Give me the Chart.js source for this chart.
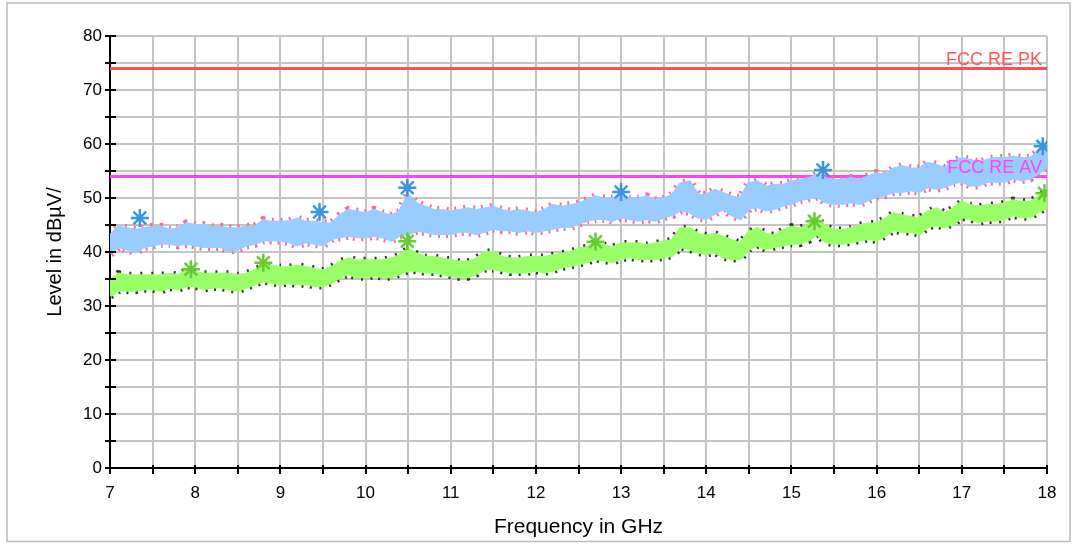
<!DOCTYPE html>
<html>
<head>
<meta charset="utf-8">
<script src="https://cdn.jsdelivr.net/npm/chart.js@4.4.1/dist/chart.umd.min.js"></script>
<style>
  html, body { margin: 0; padding: 0; background: #fff; }
  canvas { display: block; }
</style>
</head>
<body>
<canvas id="emiChart" width="1075" height="545"></canvas>
<script>
// frequency grid (GHz) the traces were read on
const freq = [
  7.0, 7.1, 7.2, 7.3, 7.4, 7.5, 7.6, 7.7, 7.8, 7.9,
  8.0, 8.1, 8.2, 8.3, 8.4, 8.5, 8.6, 8.7, 8.8, 8.9,
  9.0, 9.1, 9.2, 9.3, 9.4, 9.5, 9.6, 9.7, 9.8, 9.9,
  10.0, 10.1, 10.2, 10.3, 10.4, 10.5, 10.6, 10.7, 10.8, 10.9,
  11.0, 11.1, 11.2, 11.3, 11.4, 11.5, 11.6, 11.7, 11.8, 11.9,
  12.0, 12.1, 12.2, 12.3, 12.4, 12.5, 12.6, 12.7, 12.8, 12.9,
  13.0, 13.1, 13.2, 13.3, 13.4, 13.5, 13.6, 13.7, 13.8, 13.9,
  14.0, 14.1, 14.2, 14.3, 14.4, 14.5, 14.6, 14.7, 14.8, 14.9,
  15.0, 15.1, 15.2, 15.3, 15.4, 15.5, 15.6, 15.7, 15.8, 15.9,
  16.0, 16.1, 16.2, 16.3, 16.4, 16.5, 16.6, 16.7, 16.8, 16.9,
  17.0, 17.1, 17.2, 17.3, 17.4, 17.5, 17.6, 17.7, 17.8, 17.9,
  18.0
];

// peak trace, upper / lower edge of the noise band (dBuV)
const peakHigh = [
  42.9, 44.5, 44.2, 43.9, 44.2, 44.5, 44.5, 43.9, 44.2, 45.1,
  44.8, 44.8, 44.5, 44.5, 44.2, 44.2, 44.5, 44.5, 45.7, 45.4,
  45.4, 45.5, 46.0, 45.4, 45.4, 45.1, 45.1, 46.6, 47.6, 47.3,
  47.0, 47.6, 47.0, 46.6, 47.3, 50.4, 48.8, 48.2, 47.6, 47.6,
  47.3, 47.6, 47.9, 47.6, 47.9, 48.2, 47.6, 47.3, 47.6, 47.3,
  47.0, 47.6, 48.5, 48.2, 48.5, 48.8, 49.4, 50.1, 49.7, 49.7,
  50.1, 49.7, 49.7, 50.1, 49.4, 49.7, 50.4, 52.5, 52.9, 50.4,
  50.4, 51.3, 50.7, 50.1, 49.8, 52.5, 52.9, 51.9, 52.2, 52.2,
  52.9, 53.2, 53.5, 54.1, 53.5, 53.2, 53.2, 53.5, 53.2, 53.8,
  54.4, 54.1, 55.3, 55.7, 55.3, 55.3, 56.3, 56.0, 55.3, 56.6,
  57.2, 56.9, 56.3, 56.9, 57.2, 57.2, 57.5, 57.2, 57.2, 58.4,
  59.1
];
const peakLow = [
  39.8, 41.1, 40.7, 40.1, 41.1, 41.4, 41.7, 41.7, 41.4, 41.7,
  41.4, 41.1, 41.1, 41.1, 40.4, 40.7, 41.4, 41.7, 42.3, 42.3,
  42.3, 42.0, 41.4, 42.0, 41.7, 41.4, 42.6, 42.9, 43.2, 42.9,
  42.9, 43.2, 42.9, 42.3, 43.2, 43.5, 44.1, 43.9, 43.5, 43.5,
  43.5, 43.9, 43.9, 43.5, 43.9, 44.5, 44.2, 44.2, 43.9, 44.2,
  43.9, 44.2, 44.5, 44.8, 44.8, 45.4, 46.0, 46.3, 46.3, 46.0,
  46.6, 46.3, 46.0, 46.3, 46.0, 46.6, 47.0, 47.9, 47.6, 46.6,
  46.3, 47.3, 48.2, 47.0, 46.3, 48.2, 48.5, 47.9, 48.2, 48.8,
  49.1, 49.8, 50.1, 50.4, 49.4, 49.1, 49.1, 49.4, 49.1, 49.8,
  50.4, 50.7, 51.3, 51.3, 51.6, 51.3, 52.2, 51.9, 52.2, 52.9,
  53.2, 52.5, 52.5, 53.2, 53.2, 53.2, 53.8, 53.5, 53.8, 54.7,
  56.0
];

// average trace, upper / lower edge
const avgHigh = [
  34.5, 35.8, 35.5, 35.5, 35.5, 35.5, 35.5, 35.8, 35.5, 36.4,
  36.1, 35.8, 35.8, 35.8, 35.8, 35.5, 35.8, 36.4, 37.3, 37.3,
  37.0, 37.0, 37.3, 37.0, 36.7, 36.4, 37.0, 38.0, 38.6, 38.3,
  38.3, 38.3, 38.3, 38.6, 39.2, 40.4, 39.5, 38.9, 38.9, 38.6,
  38.3, 38.0, 38.0, 38.6, 39.8, 39.8, 38.9, 38.6, 38.6, 38.9,
  38.9, 38.9, 39.2, 39.5, 39.8, 40.4, 40.7, 41.7, 41.1, 40.7,
  41.4, 41.4, 41.4, 41.1, 41.4, 41.7, 42.0, 44.2, 44.2, 43.2,
  42.9, 43.2, 42.6, 42.0, 41.4, 43.5, 44.2, 43.2, 42.9, 43.9,
  44.5, 44.2, 44.8, 46.0, 44.5, 43.9, 43.9, 44.2, 44.8, 45.1,
  45.1, 46.0, 47.0, 46.6, 46.3, 46.0, 47.3, 47.9, 47.0, 47.9,
  49.1, 48.5, 48.2, 48.5, 48.5, 48.8, 49.4, 49.1, 49.1, 50.1,
  51.3
];
const avgLow = [
  32.0, 33.0, 33.0, 33.0, 33.3, 33.3, 33.0, 33.6, 33.3, 33.9,
  33.9, 33.3, 33.6, 33.6, 33.3, 33.0, 33.6, 34.2, 34.8, 34.5,
  34.2, 34.4, 34.2, 34.2, 33.9, 33.9, 34.5, 35.5, 36.1, 35.5,
  35.5, 35.8, 35.5, 35.5, 36.1, 36.7, 36.7, 36.4, 36.4, 36.1,
  35.8, 35.5, 35.5, 36.1, 37.0, 37.0, 36.7, 36.4, 36.4, 36.4,
  36.7, 36.4, 36.7, 37.3, 37.6, 37.9, 38.3, 38.9, 38.6, 38.3,
  38.9, 39.2, 38.9, 38.9, 38.9, 39.2, 39.5, 41.1, 40.7, 40.1,
  39.8, 40.1, 39.2, 38.9, 38.9, 40.7, 41.4, 40.7, 41.1, 41.4,
  41.7, 41.7, 42.3, 43.5, 42.0, 41.7, 41.7, 42.0, 42.3, 42.6,
  42.3, 43.2, 44.2, 43.9, 43.9, 43.5, 44.8, 45.1, 44.8, 45.4,
  46.6, 46.3, 45.7, 46.0, 46.0, 46.3, 47.0, 46.6, 46.6, 47.6,
  48.5
];

// final measurement markers
const peakMarkFreq = [7.35, 9.46, 10.49, 13.0, 15.37, 17.95];
const peakMarkLevel = [46.3, 47.4, 51.9, 51.1, 55.2, 59.6];
const avgMarkFreq = [7.95, 8.8, 10.49, 12.7, 15.27, 17.97];
const avgMarkLevel = [36.8, 38.0, 42.0, 41.9, 45.7, 50.9];

// limit lines
const limitFreq = [7, 18];
const limitPK = [74, 74];
const limitAV = [54, 54];

const toPts = (xs, ys) => xs.map((x, i) => ({ x: x, y: ys[i] }));

const band = (data, extra) => Object.assign({
  data: data,
  pointRadius: 0,
  borderWidth: 0,
  tension: 0,
  fill: false
}, extra);

const ctx = document.getElementById("emiChart").getContext("2d");

// border round the whole picture, label texts, and the inner tick stubs
const decorPlugin = {
  id: "decor",
  afterDatasetsDraw(chart) {
    const c = chart.ctx;
    c.save();
    c.font = "18px 'Liberation Sans', Arial, sans-serif";
    c.textAlign = "right";
    c.textBaseline = "alphabetic";
    c.fillStyle = "#ff5555";
    c.fillText("FCC RE PK", 1042, 65);
    c.fillStyle = "#ff44ff";
    c.fillText("FCC RE AV", 1042, 173);
    c.restore();
  },
  afterDraw(chart) {
    const c = chart.ctx;
    const xs = chart.scales.x, ys = chart.scales.y;
    const area = chart.chartArea;
    c.save();
    c.strokeStyle = "#000";
    c.lineWidth = 2;
    c.beginPath();
    for (let v = 0; v <= 80; v += 5) {
      const py = Math.round(ys.getPixelForValue(v));
      c.moveTo(area.left, py);
      c.lineTo(area.left + 6, py);
    }
    for (let v = 7; v <= 18; v += 0.5) {
      const px = Math.round(xs.getPixelForValue(v));
      c.moveTo(px, area.bottom);
      c.lineTo(px, area.bottom - 3);
    }
    c.stroke();
    c.strokeStyle = "#bbbbbb";
    c.lineWidth = 1.5;
    c.strokeRect(7, 3, 1063, 538.5);
    c.restore();
  }
};

const chart = new Chart(ctx, {
  type: "line",
  data: {
    datasets: [
      {
        label: "peak markers",
        data: toPts(peakMarkFreq, peakMarkLevel),
        showLine: false,
        pointStyle: "star",
        pointRadius: 9,
        pointBorderWidth: 2.5,
        borderColor: "#3a96dc",
        backgroundColor: "#3a96dc"
      },
      {
        label: "average markers",
        data: toPts(avgMarkFreq, avgMarkLevel),
        showLine: false,
        pointStyle: "star",
        pointRadius: 9,
        pointBorderWidth: 2.5,
        borderColor: "#66cc33",
        backgroundColor: "#66cc33"
      },
      band(toPts(freq, peakHigh), { fill: "+1", backgroundColor: "#99ccff", borderWidth: 4, borderColor: "#99ccff" }),
      band(toPts(freq, peakLow), { borderWidth: 4, borderColor: "#99ccff" }),
      band(toPts(freq, peakHigh), { borderWidth: 10, borderColor: "#ff6699", borderDash: [2, 7] }),
      band(toPts(freq, peakLow), { borderWidth: 10, borderColor: "#ff6699", borderDash: [2, 6] }),
      band(toPts(freq, avgHigh), { fill: "+1", backgroundColor: "#99ff66", borderWidth: 4, borderColor: "#99ff66" }),
      band(toPts(freq, avgLow), { borderWidth: 4, borderColor: "#99ff66" }),
      band(toPts(freq, avgHigh), { borderWidth: 9, borderColor: "#333333", borderDash: [2, 9] }),
      band(toPts(freq, avgLow), { borderWidth: 9, borderColor: "#333333", borderDash: [2, 7] }),
      band(toPts(limitFreq, limitPK), { borderWidth: 3, borderColor: "#ff5050" }),
      band(toPts(limitFreq, limitAV), { borderWidth: 3, borderColor: "#ff40ff" })
    ]
  },
  options: {
    responsive: false,
    animation: false,
    layout: { padding: { left: 0, top: 36, right: 28, bottom: 0 } },
    plugins: {
      legend: { display: false },
      tooltip: { enabled: false }
    },
    scales: {
      x: {
        type: "linear",
        min: 7,
        max: 18,
        afterFit: s => { s.height = 77; },
        ticks: {
          stepSize: 0.5,
          autoSkip: false,
          maxRotation: 0,
          padding: 9,
          color: "#000",
          font: { family: "'Liberation Sans', Arial, sans-serif", size: 17 },
          callback: v => Number.isInteger(v) ? String(v) : ""
        },
        grid: { color: "#c4c4c4", lineWidth: 2, tickColor: "#000", tickLength: 6 },
        border: { color: "#000", width: 2 },
        title: {
          display: true,
          text: "Frequency in GHz",
          color: "#000",
          padding: { top: 0, bottom: 5 },
          font: { family: "'Liberation Sans', Arial, sans-serif", size: 21 }
        }
      },
      y: {
        min: 0,
        max: 80,
        afterFit: s => { s.width = 110; },
        ticks: {
          stepSize: 5,
          autoSkip: false,
          padding: 3,
          color: "#000",
          font: { family: "'Liberation Sans', Arial, sans-serif", size: 17 },
          callback: v => v % 10 === 0 ? String(v) : ""
        },
        grid: { color: "#c4c4c4", lineWidth: 2, tickColor: "#000", tickLength: 5 },
        border: { color: "#000", width: 2 },
        title: {
          display: true,
          text: "Level in dBµV/",
          color: "#000",
          padding: { top: 43, bottom: 0 },
          font: { family: "'Liberation Sans', Arial, sans-serif", size: 20 }
        }
      }
    }
  },
  plugins: [decorPlugin]
});
</script>
</body>
</html>
